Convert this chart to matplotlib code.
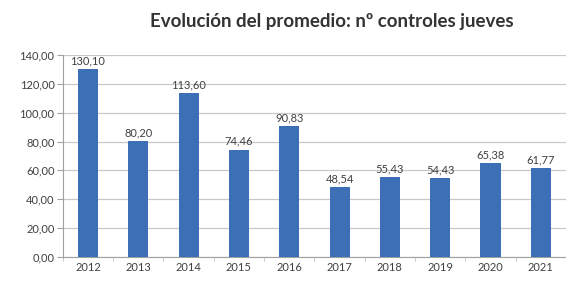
import matplotlib.pyplot as plt
import numpy as np

years = ["2012", "2013", "2014", "2015", "2016", "2017", "2018", "2019", "2020", "2021"]
values = [130.10, 80.20, 113.60, 74.46, 90.83, 48.54, 55.43, 54.43, 65.38, 61.77]
yticks = [0, 20, 40, 60, 80, 100, 120, 140]

plt.rcParams['font.family'] = ['Lato', 'DejaVu Sans']

fig = plt.figure(figsize=(5.66, 2.82), dpi=100)
ax = fig.add_axes([0.111, 0.089, 0.889, 0.716])

x = np.arange(len(years))
ax.bar(x, values, width=0.4, color="#3d6fb6", zorder=3)

for xi, v in zip(x, values):
    ax.text(xi, v + 1.8, f"{v:.2f}".replace(".", ","), ha="center", va="bottom",
            fontsize=8, color="#404040", zorder=4)

ax.set_xlim(-0.5, len(years) - 0.5)
ax.set_ylim(0, 140)
ax.set_yticks(yticks)
ax.set_yticklabels([f"{t:.2f}".replace(".", ",") for t in yticks], fontsize=8, color="#404040")
ax.set_xticks(x)
ax.set_xticklabels(years, fontsize=8, color="#404040")
ax.set_xticks(np.arange(len(years) + 1) - 0.5, minor=True)
ax.grid(axis="y", color="#c8c8c8", linewidth=0.9, zorder=0)

for s in ["top", "right"]:
    ax.spines[s].set_visible(False)
ax.spines["left"].set_color("#a0a0a0")
ax.spines["bottom"].set_color("#a0a0a0")
ax.tick_params(axis="y", length=4, color="#a0a0a0", pad=2)
ax.tick_params(axis="x", which="major", length=0, pad=4)
ax.tick_params(axis="x", which="minor", length=3, color="#c0c0c0")

fig.text(0.587, 0.922, "Evolución del promedio: nº controles jueves", ha="center", va="center",
         fontsize=13.5, fontweight="bold", color="#333333")

fig.savefig("out.png", dpi=100)
